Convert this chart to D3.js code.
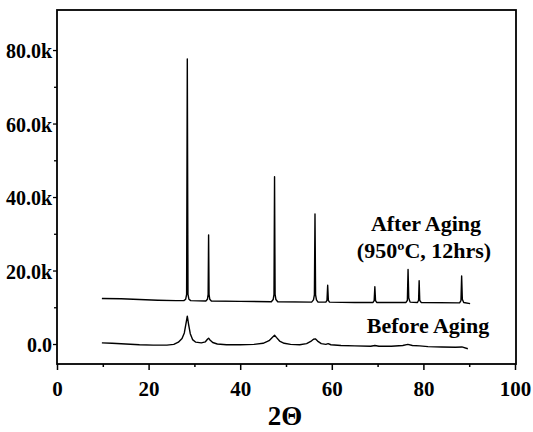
<!DOCTYPE html>
<html>
<head>
<meta charset="utf-8">
<script src="https://cdn.jsdelivr.net/npm/d3@7"></script>
<style>
body { margin: 0; background: #fff; }
text { font-family: "Liberation Serif", "Times New Roman", serif; font-weight: bold; fill: #000; }
</style>
</head>
<body>
<div id="chart"></div>
<script>
// intensities in thousands of counts
var afterAging = [[9.8,12.4],[14,12.3],[18,12.1],[22,11.9],[26,11.8],[27.7,11.8],[28.1,12.2],[28.3,13.5],[28.45,77.6],[28.6,13.5],[28.8,12.2],[29.2,11.8],
	[32.5,11.7],[32.85,12.2],[33.0,13.5],[33.1,29.7],[33.2,13.5],[33.35,12.2],[33.7,11.7],[40,11.6],[46.8,11.5],[47.2,12.1],[47.38,13.5],[47.5,45.5],[47.62,13.5],[47.8,12.1],[48.2,11.5],
	[55.6,11.4],[56.0,12.0],[56.2,13.4],[56.33,35.4],[56.46,13.4],[56.65,12.0],[57.0,11.4],[58.7,11.4],[58.95,11.9],[59.1,16.0],[59.25,11.9],[59.5,11.4],
	[65,11.3],[69.0,11.3],[69.25,11.8],[69.4,15.6],[69.55,11.8],[69.8,11.3],[76.2,11.3],[76.5,11.9],[76.65,20.3],[76.8,12.5],[77.1,11.4],
	[78.7,11.3],[78.95,11.9],[79.07,17.2],[79.2,11.9],[79.5,11.3],[87.9,11.2],[88.2,11.8],[88.35,18.5],[88.5,12.2],[88.8,11.3],[90.2,11.0]];

var beforeAging = [[9.8,0.3],[12,0.2],[15,0.0],[18,-0.2],[21,-0.3],[24,-0.3],[25.5,-0.1],[26.5,0.5],[27.3,1.5],[27.8,3.0],[28.15,5.5],[28.45,7.6],[28.75,5.2],[29.1,2.8],[29.6,1.2],[30.3,0.5],
	[31.5,0.3],[32.4,0.6],[32.85,1.3],[33.1,1.6],[33.4,1.1],[34.0,0.4],[35,0.0],[37,-0.2],[40,-0.2],[43,-0.1],[45,0.2],[46.3,0.9],[47.0,1.8],[47.5,2.4],[47.9,1.8],[48.6,0.8],[49.6,0.2],
	[51,-0.1],[53,-0.2],[54.5,0.1],[55.4,0.7],[56.0,1.3],[56.4,1.4],[56.9,0.8],[57.7,0.1],[58.7,-0.1],[59.2,0.1],[59.8,-0.2],[62,-0.4],[65,-0.5],[68.5,-0.6],[69.4,-0.4],[70.3,-0.6],
	[73,-0.6],[75.5,-0.4],[76.6,-0.1],[77.6,-0.4],[79.2,-0.5],[81,-0.7],[84,-0.8],[87,-0.9],[88.4,-0.8],[89.7,-1.3]];

var xTicks = [0, 20, 40, 60, 80, 100];
var xMinor = [10, 30, 50, 70, 90];
var yTicks = [0, 20, 40, 60, 80];
var yMinor = [10, 30, 50, 70];
var yLabels = ["0.0", "20.0k", "40.0k", "60.0k", "80.0k"];

var width = 533, height = 432;
var margin = {top: 10, right: 516, bottom: 364, left: 57};

var svg = d3.select("#chart").append("svg")
	.attr("width", width)
	.attr("height", height);

var x = d3.scaleLinear().domain([0, 100]).range([margin.left, 515]);
var y = d3.scaleLinear().domain([-5.44, 90.9]).range([margin.bottom, margin.top]);

//frame
svg.append("rect")
	.attr("x", margin.left).attr("y", margin.top)
	.attr("width", margin.right - margin.left).attr("height", margin.bottom - margin.top)
	.attr("fill", "none").attr("stroke", "#000").attr("stroke-width", 1.8);

//x axis
var gx = svg.append("g").attr("transform", "translate(0," + margin.bottom + ")");
gx.call(d3.axisBottom(x).tickValues(xTicks).tickSize(6).tickFormat(d3.format("d")));
gx.append("g").call(d3.axisBottom(x).tickValues(xMinor).tickSize(3).tickFormat(""));
gx.selectAll(".domain").remove();
gx.selectAll("line").attr("stroke", "#000").attr("stroke-width", 1.5);
gx.selectAll("text")
	.attr("y", 10)
	.attr("dy", "1.05em")
	.style("font-size", "21px")
	.style("font-family", "Liberation Serif");

//y axis
var gy = svg.append("g").attr("transform", "translate(" + margin.left + ",0)");
gy.call(d3.axisLeft(y).tickValues(yTicks).tickSize(4).tickPadding(1)
	.tickFormat(function(d, i) { return yLabels[i]; }));
gy.append("g").call(d3.axisLeft(y).tickValues(yMinor).tickSize(3).tickFormat(""));
gy.selectAll(".domain").remove();
gy.selectAll("line").attr("stroke", "#000").attr("stroke-width", 1.3);
gy.selectAll("text")
	.attr("dy", "0.38em")
	.style("font-size", "20px")
	.style("font-family", "Liberation Serif");

svg.append("text")
	.attr("x", 285).attr("y", 425)
	.attr("text-anchor", "middle")
	.style("font-size", "27px")
	.text("2Θ");

//patterns
var line = d3.line()
	.x(function(d) { return x(d[0]); })
	.y(function(d) { return y(d[1]); });

svg.selectAll(".pattern")
	.data([afterAging, beforeAging]).enter()
	.append("path")
	.attr("class", "pattern")
	.attr("d", line)
	.attr("fill", "none")
	.attr("stroke", "#000")
	.attr("stroke-width", 1.4)
	.attr("stroke-linejoin", "round");

//labels
var labels = [
	{text: "After Aging", x: 426, y: 231},
	{text: "(950\u00baC, 12hrs)", x: 424, y: 258},
	{text: "Before Aging", x: 428, y: 333}
];
svg.selectAll(".label")
	.data(labels).enter()
	.append("text")
	.attr("class", "label")
	.attr("x", function(d) { return d.x; })
	.attr("y", function(d) { return d.y; })
	.attr("text-anchor", "middle")
	.style("font-size", "22px")
	.text(function(d) { return d.text; });
</script>
</body>
</html>
